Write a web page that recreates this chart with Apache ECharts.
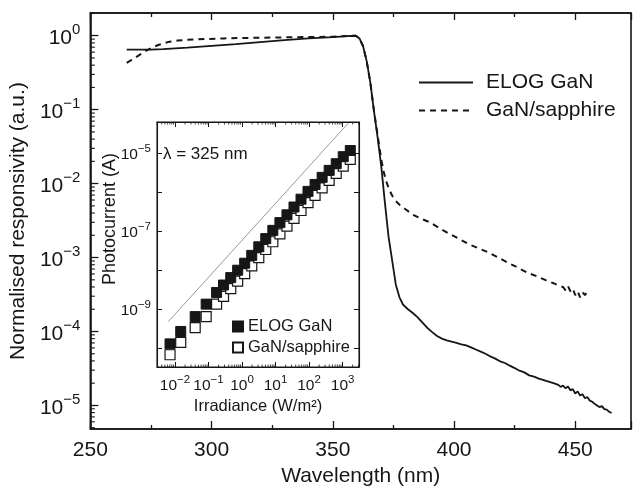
<!DOCTYPE html>
<html>
<head>
<meta charset="utf-8">
<script src="https://cdn.jsdelivr.net/npm/echarts@6/dist/echarts.min.js"></script>
<style>
  html, body { margin: 0; padding: 0; background: #fff; }
  #chart { width: 635px; height: 492px; }
</style>
</head>
<body>
<div id="chart"></div>
<script>
// ---------------- Main plot data (wavelength in nm, normalised responsivity) ----------------
const elogWavelength = [265, 270, 275, 280, 290, 300, 310, 320, 330, 340, 350, 356, 359.5, 361, 362.5, 364, 365.5, 367, 368.5, 370, 371.5, 373, 374.5, 376, 377.5, 379, 381, 383, 385, 387, 389, 391, 393, 395, 397, 399, 401, 403, 405, 407, 409, 411, 413, 415, 417, 419, 421, 423, 425, 427, 429, 431, 433, 435, 437, 439, 441, 443, 444, 445, 446, 447, 448, 449, 450, 451, 452, 453, 454, 455, 456, 457, 458, 459, 460, 461, 462, 463, 464, 465];
const elogResponse = [0.65, 0.65, 0.65, 0.66, 0.69, 0.73, 0.77, 0.82, 0.87, 0.92, 0.96, 0.99, 1.0, 0.92, 0.72, 0.45, 0.23, 0.095, 0.042, 0.017, 0.0055, 0.0019, 0.00091, 0.00043, 0.00029, 0.00023, 0.0002, 0.000178, 0.000155, 0.000132, 0.000112, 9.8e-5, 8.7e-5, 8.0e-5, 7.6e-5, 7.3e-5, 7.0e-5, 6.7e-5, 6.5e-5, 6.1e-5, 5.7e-5, 5.35e-5, 5.0e-5, 4.6e-5, 4.3e-5, 3.95e-5, 3.75e-5, 3.45e-5, 3.2e-5, 2.95e-5, 2.8e-5, 2.55e-5, 2.45e-5, 2.3e-5, 2.2e-5, 2.1e-5, 2.0e-5, 1.9e-5, 1.78e-5, 1.86e-5, 1.7e-5, 1.8e-5, 1.6e-5, 1.66e-5, 1.45e-5, 1.55e-5, 1.36e-5, 1.42e-5, 1.25e-5, 1.3e-5, 1.16e-5, 1.12e-5, 1.05e-5, 1.0e-5, 9.5e-6, 9.8e-6, 8.9e-6, 8.8e-6, 8.2e-6, 7.9e-6];

const sapphireWavelength = [265, 267, 269.5, 272, 275, 278, 282, 286, 290, 297, 305, 311, 320, 330, 340, 350, 356, 359.5, 361, 362.5, 364, 365.5, 367, 368.5, 370, 371, 372, 373, 374, 375, 376.5, 378, 380, 383, 386, 390, 394, 398, 402, 406, 410, 414, 418, 422, 426, 430, 434, 438, 441, 443, 445, 446, 447, 448, 449, 450, 451, 452, 453, 454, 455, 456];
const sapphireResponse = [0.43, 0.47, 0.53, 0.60, 0.68, 0.75, 0.82, 0.86, 0.88, 0.90, 0.92, 0.93, 0.94, 0.95, 0.96, 0.97, 0.99, 1.0, 0.92, 0.72, 0.45, 0.23, 0.095, 0.045, 0.021, 0.0145, 0.0108, 0.0088, 0.0074, 0.0064, 0.0056, 0.0050, 0.0045, 0.0038, 0.0034, 0.0030, 0.0025, 0.0021, 0.0018, 0.00152, 0.00134, 0.00118, 0.00101, 0.00086, 0.00074, 0.00063, 0.00056, 0.00049, 0.00045, 0.00042, 0.00040, 0.00036, 0.00041, 0.00035, 0.00038, 0.00031, 0.00035, 0.00029, 0.00034, 0.00031, 0.00035, 0.00036];

const seriesNames = ['ELOG GaN', 'GaN/sapphire'];

// ---------------- Inset data (irradiance W/m^2, photocurrent A) ----------------
const irradiance = [0.0071, 0.0148, 0.040, 0.085, 0.174, 0.28, 0.46, 0.74, 1.2, 1.95, 3.16, 5.1, 8.3, 13.5, 21.9, 35.5, 57.5, 93, 151, 245, 398, 646, 1047, 1698];
const elogCurrent = [1.29e-10, 2.69e-10, 6.46e-10, 1.35e-9, 2.69e-9, 4.17e-9, 6.46e-9, 1.0e-8, 1.51e-8, 2.40e-8, 3.98e-8, 6.46e-8, 1.05e-7, 1.66e-7, 2.63e-7, 4.17e-7, 6.61e-7, 1.05e-6, 1.58e-6, 2.40e-6, 3.63e-6, 5.37e-6, 8.13e-6, 1.17e-5];
const sapphireCurrent = [6.8e-11, 1.41e-10, 3.39e-10, 6.46e-10, 1.35e-9, 2.14e-9, 3.39e-9, 5.25e-9, 8.13e-9, 1.29e-8, 2.09e-8, 3.39e-8, 5.37e-8, 8.51e-8, 1.35e-7, 2.14e-7, 3.39e-7, 5.37e-7, 8.32e-7, 1.29e-6, 2.0e-6, 3.02e-6, 4.68e-6, 6.92e-6];
const refLineIrradiance = [0.0063, 1480];
const refLineCurrent = [4.8e-10, 5.9e-5];

// ---------------- Axis ranges / labels ----------------
const X_MIN = 250, X_MAX = 473, X_STEP = 50;
const Y_MIN = 4.8e-6, Y_MAX = 2.03;
const IX_MIN = 0.0029, IX_MAX = 3090;
const IY_MIN = 3.3e-11, IY_MAX = 6.3e-5;
const xTitle = 'Wavelength (nm)';
const yTitle = 'Normalised responsivity (a.u.)';
const insetXTitle = 'Irradiance (W/m\u00B2)';
const insetYTitle = 'Photocurrent (A)';
const insetNote = '\u03BB = 325 nm';

const FONT = "'Liberation Sans', 'Helvetica', Arial, sans-serif";
const INK = '#161616';

function zip(a, b) { return a.map((v, i) => [v, b[i]]); }

function decadeLabel(v, onlyOdd) {
  const e = Math.log10(v);
  const n = Math.round(e);
  if (Math.abs(e - n) > 1e-6) return '';
  if (onlyOdd && Math.abs(n) % 2 === 0) return '';
  return '{b|10}{s|' + (n < 0 ? '\u2212' + (-n) : String(n)) + '}';
}

function logMinorValues(min, max) {
  const out = [];
  for (let n = Math.floor(Math.log10(min)); n <= Math.ceil(Math.log10(max)); n++) {
    for (let k = 2; k <= 9; k++) {
      const v = k * Math.pow(10, n);
      if (v > min * 1.0001 && v < max * 0.9999) out.push(v);
    }
  }
  return out;
}

const chart = echarts.init(document.getElementById('chart'), null, { renderer: 'canvas' });

const mainRich = {
  b: { fontSize: 21, fontFamily: FONT, color: INK, verticalAlign: 'bottom', padding: [5, 0, 0, 0] },
  s: { fontSize: 15, fontFamily: FONT, color: INK, verticalAlign: 'top' }
};
const insetRich = {
  b: { fontSize: 15.5, fontFamily: FONT, color: INK, verticalAlign: 'bottom', padding: [4, 0, 0, 0] },
  s: { fontSize: 11.5, fontFamily: FONT, color: INK, verticalAlign: 'top' }
};

const axisLineMain = { show: true, lineStyle: { color: INK, width: 1.6 } };
const axisLineInset = { show: true, lineStyle: { color: INK, width: 1.1 } };

const option = {
  animation: false,
  backgroundColor: '#ffffff',
  textStyle: { fontFamily: FONT },
  grid: [
    { left: 84, top: 13, width: 547, height: 420, show: true, borderColor: INK, borderWidth: 1.6, backgroundColor: 'transparent' },
    { left: 157, top: 122, width: 202, height: 245, show: true, borderColor: INK, borderWidth: 1.1, backgroundColor: '#ffffff' }
  ],
  legend: [
    {
      data: seriesNames,
      orient: 'vertical', left: 418, top: 72, padding: 0,
      itemWidth: 54, itemHeight: 14, itemGap: 7,
      selectedMode: false,
      itemStyle: { opacity: 0 },
      textStyle: { fontSize: 21, color: INK, fontFamily: FONT, padding: [0, 0, 0, 8] }
    },
    {
      data: seriesNames.map(n => n + ' '),
      orient: 'vertical', left: 232, top: 318, padding: 0,
      itemWidth: 10, itemHeight: 10, itemGap: 4,
      selectedMode: false,
      textStyle: { fontSize: 16.5, color: INK, fontFamily: FONT }
    }
  ],
  xAxis: [
    {
      gridIndex: 0, type: 'value', position: 'bottom',
      min: X_MIN, max: X_MAX, interval: X_STEP,
      axisLine: axisLineMain,
      axisTick: { show: true, inside: true, length: 8, lineStyle: { color: INK, width: 1.3 } },
      minorTick: { show: true, splitNumber: 2, length: 4, lineStyle: { color: INK, width: 1.3 } },
      splitLine: { show: false },
      axisLabel: { show: true, margin: 11, fontSize: 21, color: INK, fontFamily: FONT, showMaxLabel: false,
        formatter: v => (v % X_STEP === 0 ? String(v) : '') },
      name: xTitle, nameLocation: 'middle', nameGap: 37,
      nameTextStyle: { fontSize: 21, color: INK, fontFamily: FONT }
    },
    {
      gridIndex: 0, type: 'value', position: 'top',
      min: X_MIN, max: X_MAX, interval: X_STEP,
      axisLine: axisLineMain,
      axisTick: { show: true, inside: true, length: 7, lineStyle: { color: INK, width: 1.3 } },
      minorTick: { show: true, splitNumber: 2, length: 4, lineStyle: { color: INK, width: 1.3 } },
      splitLine: { show: false },
      axisLabel: { show: false }
    },
    {
      gridIndex: 1, type: 'log', logBase: 10, position: 'bottom',
      min: IX_MIN, max: IX_MAX,
      axisLine: axisLineInset,
      axisTick: { show: true, inside: true, length: 5, lineStyle: { color: INK, width: 1 } },
      splitLine: { show: false },
      axisLabel: { show: true, margin: 7, showMinLabel: false, showMaxLabel: false,
        formatter: v => decadeLabel(v, false), rich: insetRich },
      name: insetXTitle, nameLocation: 'middle', nameGap: 31,
      nameTextStyle: { fontSize: 16.5, color: INK, fontFamily: FONT }
    },
    {
      gridIndex: 1, type: 'log', logBase: 10, position: 'top',
      min: IX_MIN, max: IX_MAX,
      axisLine: axisLineInset,
      axisTick: { show: true, inside: true, length: 5, lineStyle: { color: INK, width: 1 } },
      splitLine: { show: false },
      axisLabel: { show: false }
    }
  ],
  yAxis: [
    {
      gridIndex: 0, type: 'log', logBase: 10, position: 'left',
      min: Y_MIN, max: Y_MAX,
      axisLine: axisLineMain,
      axisTick: { show: true, inside: true, length: 8, lineStyle: { color: INK, width: 1.3 } },
      splitLine: { show: false },
      axisLabel: { show: true, margin: 10, showMinLabel: false, showMaxLabel: false,
        formatter: v => decadeLabel(v, false), rich: mainRich },
      name: yTitle, nameLocation: 'middle', nameGap: 58,
      nameTextStyle: { fontSize: 21, color: INK, fontFamily: FONT }
    },
    {
      gridIndex: 1, type: 'log', logBase: 10, position: 'left',
      min: IY_MIN, max: IY_MAX,
      axisLine: axisLineInset,
      axisTick: { show: true, inside: true, length: 5, lineStyle: { color: INK, width: 1 } },
      splitLine: { show: false },
      axisLabel: { show: true, margin: 6, showMinLabel: false, showMaxLabel: false,
        formatter: v => decadeLabel(v, true), rich: insetRich }
    },
    {
      gridIndex: 1, type: 'log', logBase: 10, position: 'right',
      min: IY_MIN, max: IY_MAX,
      axisLine: axisLineInset,
      axisTick: { show: true, inside: true, length: 5, lineStyle: { color: INK, width: 1 } },
      splitLine: { show: false },
      axisLabel: { show: false }
    }
  ],
  graphic: [
    {
      type: 'text', x: 163, y: 154, z: 50,
      style: { text: insetNote, fontSize: 17, fontFamily: FONT, fill: INK, align: 'left', verticalAlign: 'middle' }
    },
    {
      type: 'text', x: 110, y: 219, rotation: Math.PI / 2, z: 50,
      style: { text: insetYTitle, fontSize: 18, fontFamily: FONT, fill: INK, align: 'center', verticalAlign: 'middle' }
    }
  ],
  series: [
    // main curves
    {
      name: seriesNames[0], type: 'line', xAxisIndex: 0, yAxisIndex: 0,
      data: zip(elogWavelength, elogResponse),
      symbol: 'none', showSymbol: false,
      lineStyle: { color: INK, width: 1.8 }, itemStyle: { color: INK }, z: 3
    },
    {
      name: seriesNames[1], type: 'line', xAxisIndex: 0, yAxisIndex: 0,
      data: zip(sapphireWavelength, sapphireResponse),
      symbol: 'none', showSymbol: false,
      lineStyle: { color: INK, width: 2, type: [6, 5] }, itemStyle: { color: INK }, z: 3
    },
    // main y minor ticks (log decades)
    {
      type: 'custom', xAxisIndex: 0, yAxisIndex: 0, silent: true, clip: false, z: 6,
      data: logMinorValues(Y_MIN, Y_MAX).map(v => [X_MIN, v]),
      renderItem: (params, api) => {
        const p = api.coord([api.value(0), api.value(1)]);
        return { type: 'line', shape: { x1: p[0], y1: p[1], x2: p[0] + 4.5, y2: p[1] },
          style: { stroke: INK, lineWidth: 1.1 } };
      }
    },
    // inset reference line
    {
      type: 'line', xAxisIndex: 2, yAxisIndex: 1,
      data: zip(refLineIrradiance, refLineCurrent),
      symbol: 'none', showSymbol: false, silent: true,
      lineStyle: { color: '#9a9a9a', width: 1 }, z: 2
    },
    // inset points (open first, filled on top)
    {
      name: seriesNames[1] + ' ', type: 'scatter', xAxisIndex: 2, yAxisIndex: 1,
      data: zip(irradiance, sapphireCurrent),
      symbol: 'rect', symbolSize: 10,
      itemStyle: { color: '#ffffff', borderColor: INK, borderWidth: 1.2, opacity: 1 }, z: 3
    },
    {
      name: seriesNames[0] + ' ', type: 'scatter', xAxisIndex: 2, yAxisIndex: 1,
      data: zip(irradiance, elogCurrent),
      symbol: 'rect', symbolSize: 10,
      itemStyle: { color: INK, borderColor: INK, borderWidth: 1, opacity: 1 }, z: 4
    },
    // inset x minor ticks (top and bottom)
    {
      type: 'custom', xAxisIndex: 2, yAxisIndex: 1, silent: true, clip: false, z: 6,
      data: logMinorValues(IX_MIN, IX_MAX).map(v => [v, IY_MIN]),
      renderItem: (params, api) => {
        const b = api.coord([api.value(0), IY_MIN]);
        const t = api.coord([api.value(0), IY_MAX]);
        return { type: 'group', children: [
          { type: 'line', shape: { x1: b[0], y1: b[1], x2: b[0], y2: b[1] - 2.5 }, style: { stroke: INK, lineWidth: 0.8 } },
          { type: 'line', shape: { x1: t[0], y1: t[1], x2: t[0], y2: t[1] + 2.5 }, style: { stroke: INK, lineWidth: 0.8 } }
        ] };
      }
    }
  ]
};

chart.setOption(option);
</script>
</body>
</html>
